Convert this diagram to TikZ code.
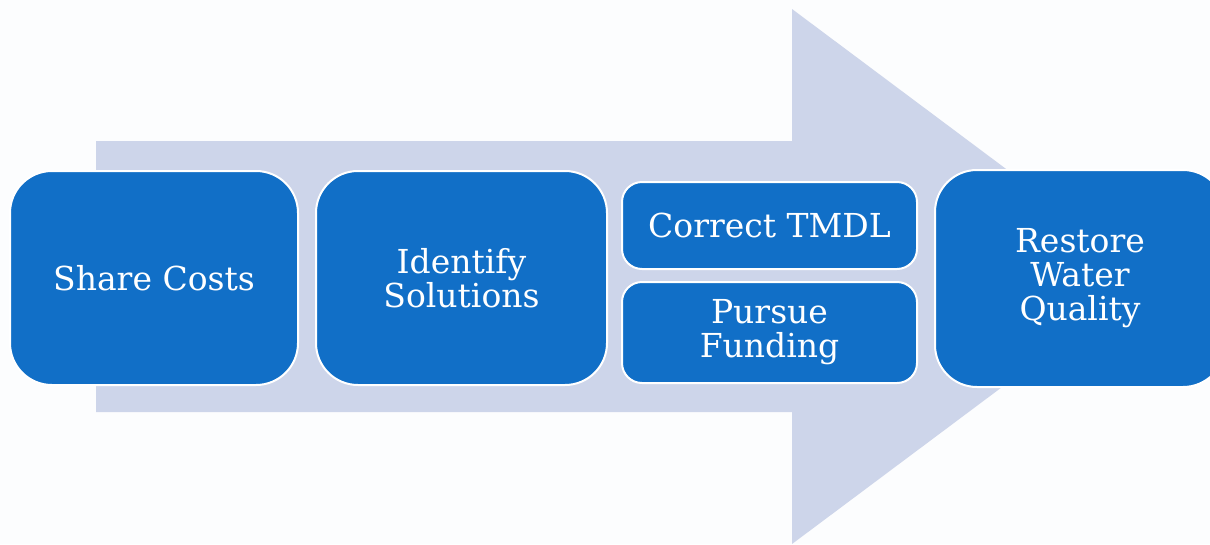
\documentclass[tikz,border=0pt]{standalone}
\usepackage{fontspec}
\setmainfont{DejaVu Serif}
\definecolor{boxblue}{RGB}{17,111,199}
\definecolor{arrowfill}{RGB}{205,213,234}
\definecolor{bg}{RGB}{252,253,254}
\tikzset{
  stepbox/.style={draw=white, line width=2pt, fill=boxblue, text=white,
    inner sep=0pt, align=center, font=\fontsize{33}{34}\selectfont},
}
\begin{document}
\begin{tikzpicture}[x=1pt,y=-1pt]
\useasboundingbox (0,0) rectangle (1210,544);
\clip (0,0) rectangle (1210,544);
\fill[bg] (0,0) rectangle (1210,544);
% big background arrow
\fill[arrowfill] (96,141) -- (792,141) -- (792,9) -- (1150,276.5) -- (792,544) -- (792,412) -- (96,412) -- cycle;
% boxes
\node[stepbox, rounded corners=42pt, minimum width=288pt, minimum height=214pt] (share) at (154,278) {Share Costs};
\node[stepbox, rounded corners=42pt, minimum width=291pt, minimum height=214pt] (ident) at (461.5,278) {Identify\\Solutions};
\node[stepbox, rounded corners=20pt, minimum width=295pt, minimum height=87pt] (tmdl) at (769.5,225.5) {Correct TMDL};
\node[stepbox, rounded corners=20pt, minimum width=295pt, minimum height=101pt] (fund) at (769.5,332.5) {Pursue\\Funding};
\node[stepbox, rounded corners=42pt, minimum width=290pt, minimum height=217pt] (restore) at (1080,278.5) {Restore\\Water\\Quality};
\end{tikzpicture}
\end{document}
